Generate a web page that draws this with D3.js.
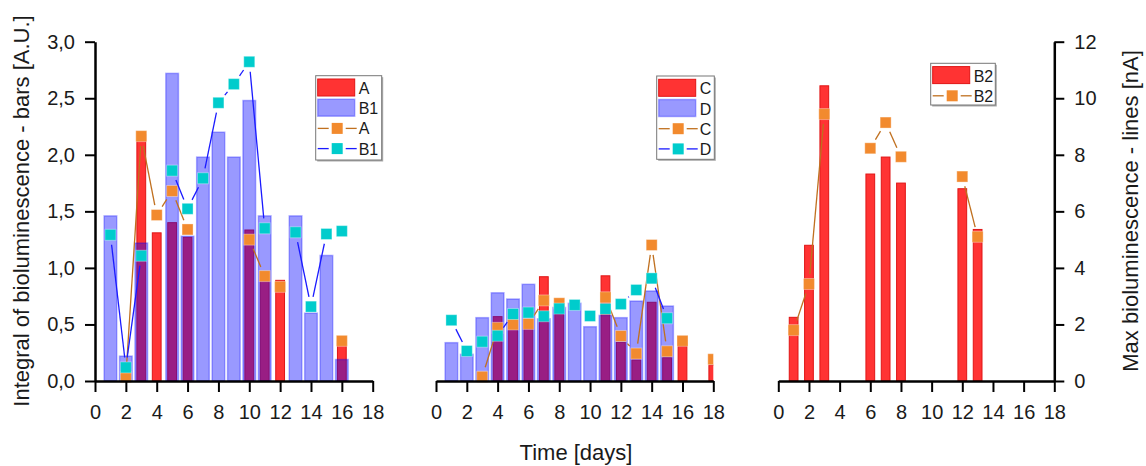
<!DOCTYPE html>
<meta charset="utf-8">
<html>
<head>
<script src="https://cdn.jsdelivr.net/npm/d3@7"></script>
<style>
  body { margin: 0; background: #fff; }
  text { font-family: "Liberation Sans", Arial, sans-serif; fill: #1a1a1a; }
</style>
</head>
<body>
<script>
// days 1..18, null = no measurement
var days = d3.range(1, 19);
var xTicks = d3.range(0, 19, 2);
var yBarTicks = [0, 0.5, 1, 1.5, 2, 2.5, 3];
var yLineTicks = [0, 2, 4, 6, 8, 10, 12];

// panel 1 - bars [A.U.]
var barA  = [null, 0.02, 2.18, 1.31, 1.40, 1.27, null, null, null, 1.335, 0.89, 0.89, null, null, null, 0.35, null, null];
var barB1 = [1.46, 0.22, 1.22, null, 2.72, 1.28, 1.98, 2.20, 1.98, 2.48, 1.46, null, 1.46, 0.60, 1.11, 0.19, null, null];
// panel 1 - lines [nA]
var lineA  = [null, 0.14, 8.66, 5.87, 6.72, 5.36, null, null, null, 5.0, 3.71, 3.33, null, null, null, 1.42, null, null];
var lineB1 = [5.17, 0.48, 4.43, null, 7.44, 6.09, 7.17, 9.84, 10.5, 11.29, 5.4, null, 5.26, 2.63, 5.2, 5.3, null, null];

// panel 2
var barC  = [null, null, null, 0.569, 0.525, 0.466, 0.922, 0.59, null, null, 0.93, 0.342, 0.186, 0.696, 0.206, 0.309, null, 0.141];
var barD  = [0.339, 0.236, 0.56, 0.78, 0.725, 0.855, 0.55, 0.65, 0.687, 0.48, 0.58, 0.56, 0.707, 0.796, 0.663, null, null, null];
var lineC = [null, null, 0.15, 1.88, 2.0, 2.02, 2.85, 2.75, null, null, 2.96, 1.59, 0.97, 4.81, 1.05, 1.42, null, 0.77];
var lineD = [2.15, 1.06, 1.39, 1.60, 2.37, 2.42, 2.29, 2.56, 2.69, 2.30, 2.55, 2.72, 3.22, 3.63, 2.22, null, null, null];

// panel 3
var barB2  = [0.563, 1.20, 2.61, null, null, 1.83, 1.98, 1.75, null, null, null, 1.70, 1.34, null, null, null, null, null];
var lineB2 = [1.80, 3.43, 9.44, null, null, 8.23, 9.14, 7.93, null, null, null, 7.23, 5.10, null, null, null, null, null];

var RED = "#ff3333", BLUE = "#0000ff", ORANGE = "#f28a2e", CYAN = "#00cccc";
var ORANGE_LINE = "#c0701f", BLUE_LINE = "#1a1aff";

var W = 1146, H = 466;
var yTop = 41.7, yBottom = 381;

var svg = d3.select("body").append("svg")
    .attr("width", W)
    .attr("height", H);

var yBar = d3.scaleLinear().domain([0, 3]).range([yBottom, yTop]);
var yLine = d3.scaleLinear().domain([0, 12]).range([yBottom, yTop]);

var panels = [
  { x0: 95, x1: 372.7,
    bars: [{ v: barA, kind: "red", w: 0.57 }, { v: barB1, kind: "blue", w: 0.82 }],
    lines: [{ v: lineA, fill: ORANGE, stroke: ORANGE_LINE }, { v: lineB1, fill: CYAN, stroke: BLUE_LINE }],
    legend: { x: 315.7, y: 75.7, w: 66, h: 84.3, items: [
      { t: "bar", kind: "red", name: "A" }, { t: "bar", kind: "blue", name: "B1" },
      { t: "line", fill: ORANGE, stroke: ORANGE_LINE, name: "A" }, { t: "line", fill: CYAN, stroke: BLUE_LINE, name: "B1" }] } },
  { x0: 436, x1: 713.3,
    bars: [{ v: barC, kind: "red", w: 0.57 }, { v: barD, kind: "blue", w: 0.82 }],
    lines: [{ v: lineC, fill: ORANGE, stroke: ORANGE_LINE }, { v: lineD, fill: CYAN, stroke: BLUE_LINE }],
    legend: { x: 656.7, y: 76, w: 57.6, h: 83.3, items: [
      { t: "bar", kind: "red", name: "C" }, { t: "bar", kind: "blue", name: "D" },
      { t: "line", fill: ORANGE, stroke: ORANGE_LINE, name: "C" }, { t: "line", fill: CYAN, stroke: BLUE_LINE, name: "D" }] } },
  { x0: 778.3, x1: 1054.3,
    bars: [{ v: barB2, kind: "red", w: 0.57 }],
    lines: [{ v: lineB2, fill: ORANGE, stroke: ORANGE_LINE }],
    legend: { x: 930.7, y: 63.3, w: 64.6, h: 41.7, items: [
      { t: "bar", kind: "red", name: "B2" }, { t: "line", fill: ORANGE, stroke: ORANGE_LINE, name: "B2" }] } }
];

function styleBar(sel, kind) {
  if (kind == "red") {
    sel.attr("fill", RED).attr("stroke", "#e01515").attr("stroke-width", 1);
  } else {
    sel.attr("fill", BLUE).attr("fill-opacity", 0.4)
       .attr("stroke", BLUE).attr("stroke-opacity", 0.3).attr("stroke-width", 1.5);
  }
}

function styleAxis(g) {
  g.select(".domain").attr("stroke", "#000").attr("stroke-width", 2.5);
  g.selectAll(".tick line").attr("stroke", "#000").attr("stroke-width", 2);
  g.selectAll(".tick text").style("font-size", "20px").attr("fill", "#1a1a1a")
    .style("font-family", '"Liberation Sans", Arial, sans-serif');
}

var MS = 11, GAP = 10;

panels.forEach(function(p, pi) {
  var x = d3.scaleLinear().domain([0, 18]).range([p.x0, p.x1]);

  svg.append("clipPath").attr("id", "clip" + pi)
    .append("rect").attr("x", p.x0).attr("y", 0).attr("width", p.x1 - p.x0).attr("height", H);

  var plot = svg.append("g").attr("clip-path", "url(#clip" + pi + ")");

  // bars: red first, blue over it
  p.bars.forEach(function(b) {
    var bw = x(b.w) - x(0);
    var data = days.map(function(d, i) { return { d: d, v: b.v[i] }; })
                   .filter(function(o) { return o.v != null; });
    plot.selectAll(null).data(data).enter().append("rect")
      .attr("x", function(o) { return x(o.d) - bw / 2; })
      .attr("y", function(o) { return yBar(o.v); })
      .attr("width", bw)
      .attr("height", function(o) { return yBar(0) - yBar(o.v); })
      .call(styleBar, b.kind);
  });

  // lines with gaps around the symbols
  p.lines.forEach(function(l) {
    var pts = days.map(function(d, i) {
      return l.v[i] == null ? null : [x(d), yLine(l.v[i])];
    });
    for (var i = 0; i < pts.length - 1; i++) {
      var a = pts[i], c = pts[i + 1];
      if (!a || !c) continue;
      var dx = c[0] - a[0], dy = c[1] - a[1], len = Math.sqrt(dx * dx + dy * dy);
      if (len <= 2 * GAP) continue;
      var ux = dx / len, uy = dy / len;
      plot.append("line")
        .attr("x1", a[0] + ux * GAP).attr("y1", a[1] + uy * GAP)
        .attr("x2", c[0] - ux * GAP).attr("y2", c[1] - uy * GAP)
        .attr("stroke", l.stroke).attr("stroke-width", 1.3);
    }
    var data = pts.filter(function(o) { return o != null; });
    plot.selectAll(null).data(data).enter().append("rect")
      .attr("x", function(o) { return o[0] - MS / 2; })
      .attr("y", function(o) { return o[1] - MS / 2; })
      .attr("width", MS).attr("height", MS)
      .attr("fill", l.fill)
      .attr("stroke", "#fff").attr("stroke-opacity", 0.35).attr("stroke-width", 1);
  });

  // x axis
  svg.append("g")
    .attr("transform", "translate(0," + yBottom + ")")
    .call(d3.axisBottom(x).tickValues(xTicks).tickSize(11).tickSizeOuter(0).tickPadding(13))
    .call(styleAxis);

  // legend
  var lg = p.legend;
  var g = svg.append("g");
  g.append("rect").attr("x", lg.x + 1.5).attr("y", lg.y + 1.5).attr("width", lg.w).attr("height", lg.h)
    .attr("fill", "#aaa");
  g.append("rect").attr("x", lg.x).attr("y", lg.y).attr("width", lg.w).attr("height", lg.h)
    .attr("fill", "#fff").attr("stroke", "#777").attr("stroke-width", 1);
  lg.items.forEach(function(it, i) {
    var top = lg.y + 3.3 + i * 20.2, cy = top + 9;
    var px = lg.x + 2;
    if (it.t == "bar") {
      g.append("rect").attr("x", px).attr("y", top).attr("width", 37).attr("height", 17)
        .call(styleBar, it.kind);
    } else {
      g.append("line").attr("x1", px).attr("x2", px + 11).attr("y1", cy).attr("y2", cy)
        .attr("stroke", it.stroke).attr("stroke-width", 1.3);
      g.append("line").attr("x1", px + 28).attr("x2", px + 39).attr("y1", cy).attr("y2", cy)
        .attr("stroke", it.stroke).attr("stroke-width", 1.3);
      g.append("rect").attr("x", px + 19.5 - MS / 2).attr("y", cy - MS / 2).attr("width", MS).attr("height", MS)
        .attr("fill", it.fill);
    }
    g.append("text").attr("x", px + 41).attr("y", cy + 6)
      .style("font-size", "16px").text(it.name);
  });

  if (pi == 0) {
    svg.append("g")
      .attr("transform", "translate(" + p.x0 + ",0)")
      .call(d3.axisLeft(yBar).tickValues(yBarTicks).tickSize(10).tickSizeOuter(0).tickPadding(10)
        .tickFormat(function(d) { return d3.format(".1f")(d).replace(".", ","); }))
      .call(styleAxis);
  }
  if (pi == 2) {
    svg.append("g")
      .attr("transform", "translate(" + p.x1 + ",0)")
      .call(d3.axisRight(yLine).tickValues(yLineTicks).tickSize(10).tickSizeOuter(0).tickPadding(10))
      .call(styleAxis);
  }
});

// axis titles
svg.append("text")
  .attr("transform", "translate(21," + 211 + ") rotate(-90)")
  .attr("text-anchor", "middle").attr("dominant-baseline", "central")
  .style("font-size", "22px")
  .text("Integral of bioluminescence - bars [A.U.]");

svg.append("text")
  .attr("transform", "translate(1130," + 211 + ") rotate(-90)")
  .attr("text-anchor", "middle").attr("dominant-baseline", "central")
  .style("font-size", "22px")
  .text("Max bioluminescence - lines [nA]");

svg.append("text")
  .attr("x", 576).attr("y", 460)
  .attr("text-anchor", "middle")
  .style("font-size", "22px")
  .text("Time [days]");
</script>
</body>
</html>
